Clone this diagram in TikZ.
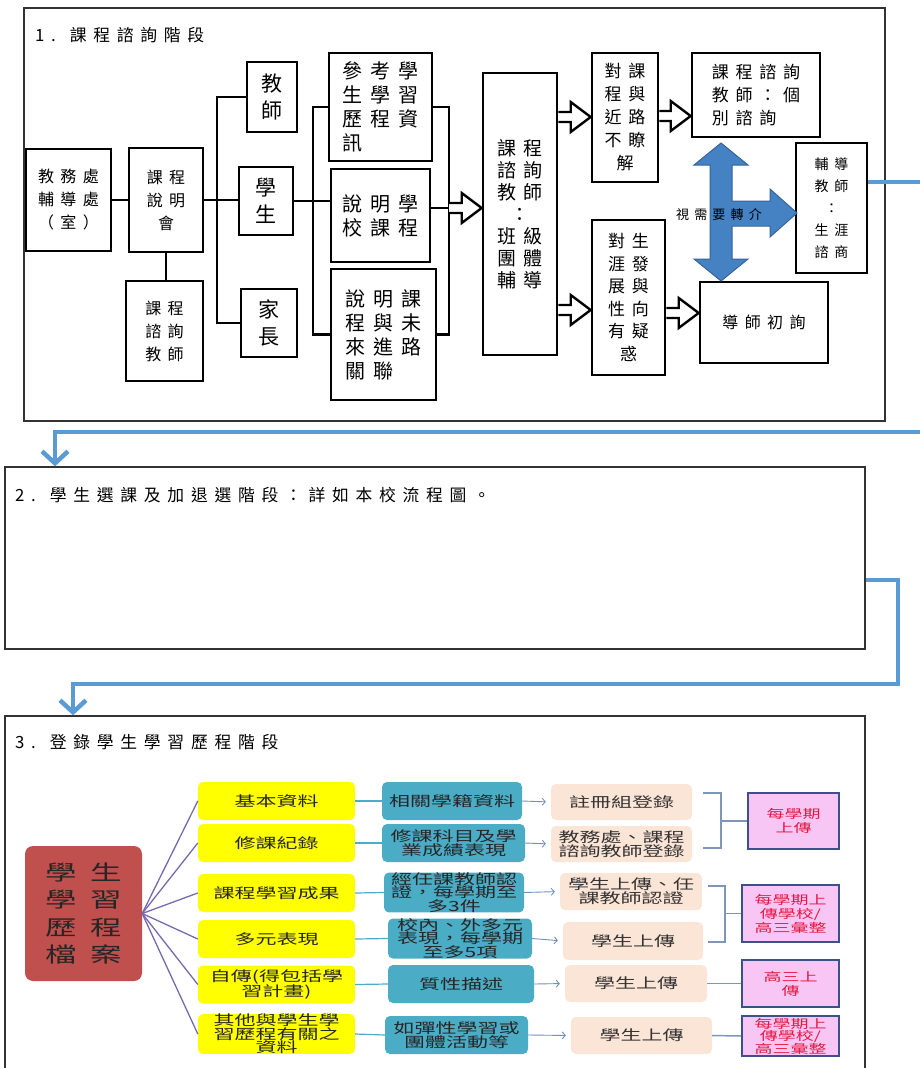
\documentclass[tikz,border=0pt]{standalone}
\usepackage{fontspec}
\newfontfamily\cjk{Noto Sans CJK TC}
\newfontfamily\cjksp[LetterSpace=40]{Noto Sans CJK TC}
\newfontfamily\cjkwide[FakeStretch=1.5]{Noto Sans CJK TC}
\usetikzlibrary{calc,arrows.meta}

\definecolor{flowblue}{RGB}{91,155,213}
\definecolor{crossblue}{RGB}{68,130,196}
\definecolor{crossedge}{RGB}{55,100,150}
\definecolor{recred}{RGB}{192,80,77}
\definecolor{recyellow}{RGB}{255,255,0}
\definecolor{recteal}{RGB}{75,172,198}
\definecolor{recpeach}{RGB}{251,229,214}
\definecolor{recpink}{RGB}{248,198,244}
\definecolor{pinkedge}{RGB}{60,80,140}
\definecolor{pinktext}{RGB}{228,25,65}
\definecolor{fanline}{RGB}{120,105,175}
\definecolor{peachline}{RGB}{110,145,190}
\definecolor{bracketline}{RGB}{125,150,185}

\tikzset{
  frame/.style={draw=black!80, line width=1.3pt, inner sep=0pt},
  box/.style={draw, line width=2.6pt, inner sep=0pt, align=center},
  small/.style={font=\cjksp\fontsize{16}{23}\selectfont},
  big/.style={font=\cjksp\fontsize{20}{24}\selectfont},
  mid/.style={font=\cjksp\fontsize{17}{23}\selectfont},
  heading/.style={anchor=west, inner sep=0pt, font=\cjksp\fontsize{16.8}{20}\selectfont},
  hollow/.style={draw, line width=2.4pt, fill=white, line join=miter},
  wire/.style={line width=2.6pt},
  flow/.style={draw=flowblue, line width=4.5pt},
  flowarrow/.style={flow, -{Straight Barb[length=12pt, width=26pt]}},
  rec/.style={rounded corners=5pt, inner sep=0pt, align=center, font=\cjkwide\fontsize{14}{14}\selectfont},
  ybox/.style={rec, fill=recyellow, minimum width=157pt, minimum height=38pt, text=black!85},
  tbox/.style={rec, fill=recteal, text=black!85},
  pbox/.style={rec, fill=recpeach, text=black!80},
  kbox/.style={draw=pinkedge, line width=1.6pt, fill=recpink, text=pinktext, inner sep=0pt,
    align=center, font=\cjkwide\fontsize{12}{14}\selectfont},
  fan/.style={draw=fanline, line width=1.3pt},
  tline/.style={draw=recteal, line width=1.2pt},
  parrow/.style={draw=peachline, line width=0.9pt, -{Straight Barb[length=3pt, width=7pt]}, shorten >=5pt},
  bracket/.style={draw=bracketline, line width=1.5pt},
}

\newcommand{\hollowarrow}[2]{%
  \draw[hollow] let \p1=(#1), \p2=(#2) in
    (\x1,\y1+5pt) -- (\x2-20pt,\y1+5pt) -- (\x2-20pt,\y1+15pt) -- (\x2,\y1)
    -- (\x2-20pt,\y1-15pt) -- (\x2-20pt,\y1-5pt) -- (\x1,\y1-5pt);}

\begin{document}
\begin{tikzpicture}[x=1pt, y=-1pt]
	\useasboundingbox (0, 0) rectangle (919, 1068);
	% Frames and headings:
	\node[frame, minimum width=861pt, minimum height=413pt] (F1) at (454.5, 214.5) {};
	\node[frame, minimum width=860pt, minimum height=182pt] (F2) at (435, 558) {};
	\node[frame, minimum width=860pt, minimum height=364pt] (F3) at (435, 898) {};
	\node[heading] (H1) at (35, 35) {1. 課程諮詢階段};
	\node[heading] (H2) at (15, 495) {2. 學生選課及加退選階段：詳如本校流程圖。};
	\node[heading] (H3) at (15, 742) {3. 登錄學生學習歷程階段};
	% Stage 1 boxes:
	\node[box, small, minimum width=85pt, minimum height=102pt] (N1) at (68.5, 200) {教務處\\輔導處\\（室）};
	\node[box, small, minimum width=74pt, minimum height=104pt] (N2) at (166, 200) {課程\\說明\\會};
	\node[box, small, minimum width=77pt, minimum height=100pt] (N3) at (164.5, 331) {課程\\諮詢\\教師};
	\node[box, font=\cjk\fontsize{21}{27}\selectfont, minimum width=50pt, minimum height=70pt] (N4) at (272, 97) {教\\師};
	\node[box, font=\cjk\fontsize{21}{27}\selectfont, minimum width=54pt, minimum height=68pt] (N5) at (266, 201) {學\\生};
	\node[box, font=\cjk\fontsize{21}{27}\selectfont, minimum width=56pt, minimum height=68pt] (N6) at (269, 323) {家\\長};
	\node[box, big, align=left, minimum width=103pt, minimum height=108pt] (N7) at (380.5, 107) {參考學\\生學習\\歷程資\\訊};
	\node[box, big, minimum width=99pt, minimum height=93pt] (N8) at (380.5, 215.5) {說明學\\校課程};
	\node[box, big, align=left, minimum width=105pt, minimum height=131pt] (N9) at (383.5, 334.5) {說明課\\程與未\\來進路\\關聯};
	\node[box, font=\cjksp\fontsize{19}{22}\selectfont, minimum width=74pt, minimum height=282pt] (N10) at (520, 214) {課程\\諮詢\\教師\\：\\班級\\團體\\輔導};
	\node[box, mid, minimum width=66pt, minimum height=129pt] (N11) at (625, 117.5) {對課\\程與\\近路\\不瞭\\解};
	\node[box, font=\cjksp\fontsize{17}{22.5}\selectfont, minimum width=73pt, minimum height=155pt] (N12) at (628.5, 297.5) {對生\\涯發\\展與\\性向\\有疑\\惑};
	\node[box, mid, align=left, minimum width=128pt, minimum height=84pt] (N13) at (756, 95) {課程諮詢\\教師：個\\別諮詢};
	\node[box, font=\cjksp\fontsize{14}{22}\selectfont, minimum width=71pt, minimum height=130pt] (N14) at (831.5, 208) {輔導\\教師\\：\\生涯\\諮商};
	\node[box, font=\cjksp\fontsize{16}{20}\selectfont, minimum width=128pt, minimum height=81pt] (N15) at (764, 322.5) {導師初詢};
	% Stage 1 wires:
	\coordinate (B1) at (217, 200);
	\coordinate (B2) at (313, 201);
	\coordinate (B3) at (449, 208);
	\coordinate (A1) at (0, 117);
	\coordinate (A2) at (0, 310);
	\coordinate (A3) at (0, 116);
	\coordinate (A4) at (0, 313);
	\draw[wire] (N1) -- (N2);
	\draw[wire] (N2.south) -- (N2.south |- N3.north);
	\draw[wire] (N2.east) -- (N5.west |- N2.east);
	\draw[wire] (N4.west) -| (B1) |- (N6.west);
	\draw[wire] (N5.east) -- (N8.west |- N5.east);
	\draw[wire] (N7.west) -| (B2) |- (N9.west);
	\draw[wire] (N7.east) -| (B3) |- (N9.east);
	\draw[wire] (N8.east |- B3) -- (B3);
	\hollowarrow{B3}{N10.west |- B3}
	\hollowarrow{N10.east |- A1}{N11.west |- A1}
	\hollowarrow{N10.east |- A2}{N12.west |- A2}
	\hollowarrow{N11.east |- A3}{N13.west |- A3}
	\hollowarrow{N12.east |- A4}{N15.west |- A4}
	% Referral cross arrow:
	\draw[fill=crossblue, draw=crossedge, line width=1pt] (721, 143) -- (748, 165) -- (732, 165)
	  -- (732, 201) -- (770, 201) -- (770, 189) -- (797, 213) -- (770, 237) -- (770, 226)
	  -- (732, 226) -- (732, 259) -- (748, 259) -- (721, 281) -- (694, 259) -- (710, 259)
	  -- (710, 165) -- (694, 165) -- cycle;
	\node[font=\cjksp\fontsize{13}{13}\selectfont] (L1) at (719, 215) {視需要轉介};
	% Stage links:
	\coordinate (E1) at (925, 182);
	\coordinate (E2) at (925, 432);
	\draw[flow] (N14.east |- E1) -- (E1);
	\draw[flowarrow] (E2) -| (F2.north -| 55, 0);
	\draw[flowarrow] (F2.east |- 0, 580) -| (898, 684) -| (F3.north -| 73, 0);
	% Stage 3 boxes:
	\node[rec, fill=recred, rounded corners=8pt, minimum width=117pt, minimum height=135pt,
	  font=\cjkwide\fontsize{21}{27.5}\selectfont, text=black!85] (R1) at (83.5, 913.5)
	  {學\hspace{14pt}生\\學\hspace{14pt}習\\歷\hspace{14pt}程\\檔\hspace{14pt}案};
	\node[ybox] (Y1) at (276.5, 801) {基本資料};
	\node[ybox] (Y2) at (276.5, 843) {修課紀錄};
	\node[ybox] (Y3) at (276.5, 893) {課程學習成果};
	\node[ybox] (Y4) at (276.5, 939) {多元表現};
	\node[ybox] (Y5) at (276.5, 984.5) {自傳(得包括學\\習計畫)};
	\node[ybox, font=\cjkwide\fontsize{14}{13.5}\selectfont] (Y6) at (276.5, 1034) {其他與學生學\\習歷程有關之\\資料};
	\node[tbox, minimum width=140pt, minimum height=38pt] (T1) at (452, 801) {相關學籍資料};
	\node[tbox, minimum width=143pt, minimum height=38pt] (T2) at (453.5, 843) {修課科目及學\\業成績表現};
	\node[tbox, minimum width=140pt, minimum height=39pt, font=\cjkwide\fontsize{14}{13.5}\selectfont] (T3) at (454, 892.5) {經任課教師認\\證，每學期至\\多3件};
	\node[tbox, minimum width=144pt, minimum height=39pt, font=\cjkwide\fontsize{14}{13.5}\selectfont] (T4) at (460, 938.5) {校內、外多元\\表現，每學期\\至多5項};
	\node[tbox, minimum width=146pt, minimum height=38pt] (T5) at (461, 984) {質性描述};
	\node[tbox, minimum width=143pt, minimum height=38pt] (T6) at (456.5, 1035) {如彈性學習或\\團體活動等};
	\node[pbox, minimum width=141pt, minimum height=36pt] (P1) at (621.5, 802) {註冊組登錄};
	\node[pbox, minimum width=141pt, minimum height=36pt] (P2) at (621.5, 844) {教務處、課程\\諮詢教師登錄};
	\node[pbox, minimum width=142pt, minimum height=37pt] (P3) at (631, 891.5) {學生上傳、任\\課教師認證};
	\node[pbox, minimum width=140pt, minimum height=38pt] (P4) at (633, 941) {學生上傳};
	\node[pbox, minimum width=142pt, minimum height=37pt] (P5) at (636, 983.5) {學生上傳};
	\node[pbox, minimum width=141pt, minimum height=37pt] (P6) at (641.5, 1035.5) {學生上傳};
	\node[kbox, minimum width=91pt, minimum height=56pt] (K1) at (793.5, 821) {每學期\\上傳};
	\node[kbox, minimum width=97pt, minimum height=57pt] (K2) at (790.5, 913.5) {每學期上\\傳學校/\\高三彙整};
	\node[kbox, minimum width=97pt, minimum height=47pt] (K3) at (790.5, 983.5) {高三上\\傳};
	\node[kbox, minimum width=97pt, minimum height=40pt, font=\cjkwide\fontsize{12}{12.5}\selectfont] (K4) at (790.5, 1036) {每學期上\\傳學校/\\高三彙整};
	% Stage 3 lines:
	\foreach \n in {1,...,6} {
		\draw[fan] (R1.east) -- (Y\n.west);
		\draw[tline] (Y\n.east) -- (T\n.west);
		\draw[parrow] (T\n.east) -- (P\n.west);
	}
	\draw[bracket] (703, 793) -| (721, 848) -- (703, 848);
	\draw[bracket] (721, 821) -- (K1.west);
	\draw[bracket] (708, 886) -| (725, 942) -- (708, 942);
	\draw[bracket] (725, 913.5) -- (K2.west);
	\draw[bracket] (P5.east) -- (K3.west);
	\draw[bracket] (P6.east) -- (K4.west);
\end{tikzpicture}
\end{document}
